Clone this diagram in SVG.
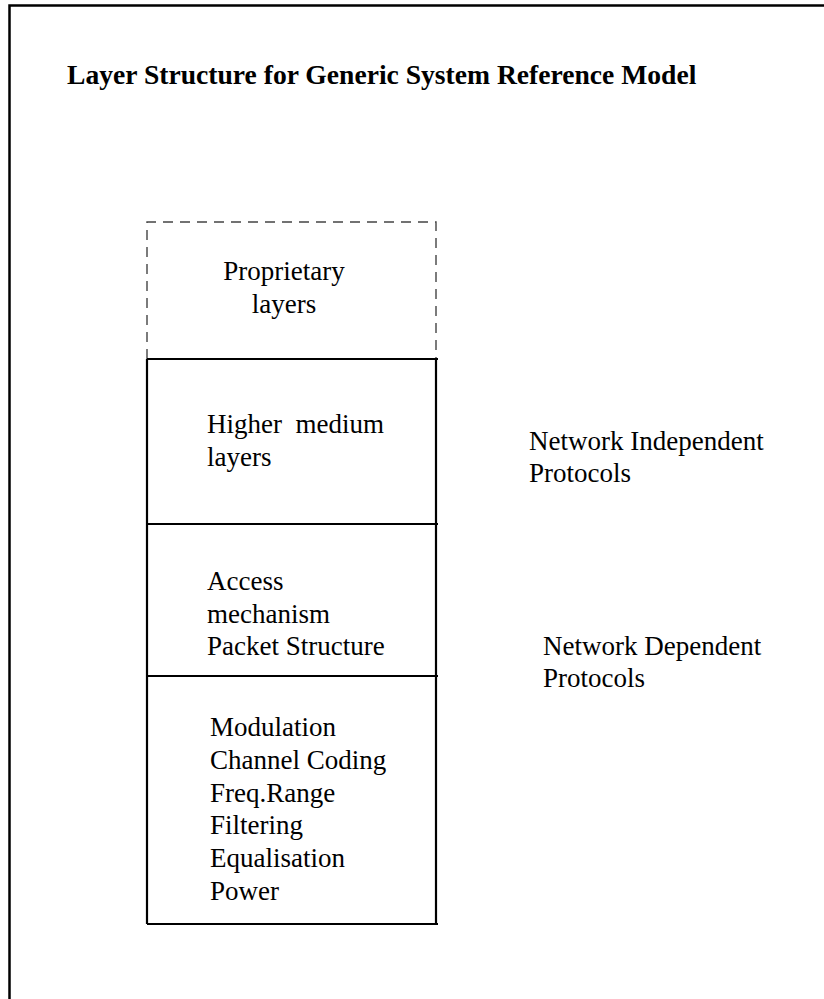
<svg xmlns="http://www.w3.org/2000/svg" width="824" height="999" viewBox="0 0 824 999">
<style>
text { font-family: "Liberation Serif", "Times New Roman", serif; font-size: 27px; fill: #000; }
.title { font-weight: bold; font-size: 27.6px; }
.solid { stroke: #000; stroke-width: 2.2; fill: none; }
.dash { stroke: #444; stroke-width: 1.4; stroke-dasharray: 10 7; fill: none; }
.frame { stroke: #000; stroke-width: 2.5; fill: none; }
</style>
<rect width="824" height="999" fill="#fff"/>
<g id="frame">
<path class="frame" d="M9.5 999 V5.5 H824"/>
</g>
<g id="title">
<text class="title" x="67" y="84">Layer Structure for Generic System Reference Model</text>
</g>
<g id="proprietary">
<path class="dash" d="M147 359 V222 H436 V359"/>
<text x="284" y="280" text-anchor="middle">Proprietary</text>
<text x="284" y="313" text-anchor="middle">layers</text>
</g>
<g id="higher">
<path class="solid" d="M147 359 H438 M147 359 V524 M436 359 V524"/>
<text x="207" y="433" xml:space="preserve">Higher  medium</text>
<text x="207" y="466">layers</text>
</g>
<g id="access">
<path class="solid" d="M147 524 H438 M147 524 V676 M436 524 V676"/>
<text x="207" y="590">Access</text>
<text x="207" y="623">mechanism</text>
<text x="207" y="655">Packet Structure</text>
</g>
<g id="physical">
<path class="solid" d="M147 676 H438 M147 676 V924 M436 676 V924 M147 924 H438"/>
<text x="210" y="736">Modulation</text>
<text x="210" y="769">Channel Coding</text>
<text x="210" y="802">Freq.Range</text>
<text x="210" y="834">Filtering</text>
<text x="210" y="867">Equalisation</text>
<text x="210" y="900">Power</text>
</g>
<g id="independent">
<text x="529" y="450">Network Independent</text>
<text x="529" y="482">Protocols</text>
</g>
<g id="dependent">
<text x="543" y="655">Network Dependent</text>
<text x="543" y="687">Protocols</text>
</g>
<g id="connectors"></g>
</svg>
